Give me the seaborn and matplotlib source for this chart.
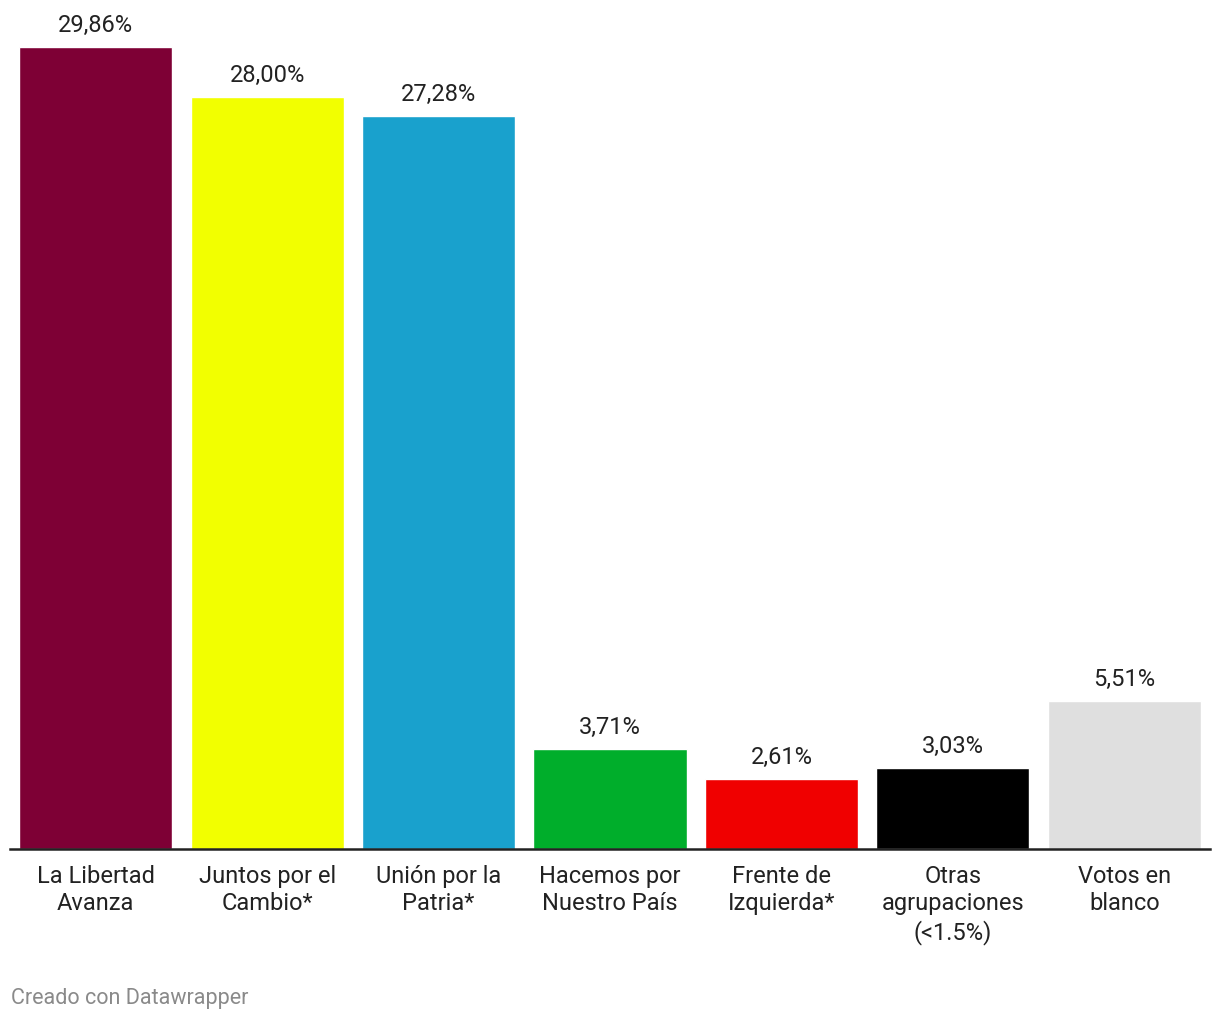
import matplotlib
matplotlib.use('Agg')
import matplotlib.pyplot as plt
import seaborn as sns
import pandas as pd

# values
parties = ['La Libertad\nAvanza', 'Juntos por el\nCambio*', 'Unión por la\nPatria*',
           'Hacemos por\nNuestro País', 'Frente de\nIzquierda*',
           'Otras\nagrupaciones\n(<1.5%)', 'Votos en\nblanco']
votes = [29.86, 28.00, 27.28, 3.71, 2.61, 3.03, 5.51]
value_labels = ['29,86%', '28,00%', '27,28%', '3,71%', '2,61%', '3,03%', '5,51%']
colors = ['#7e0035', '#f2ff00', '#19a1cd', '#00ae2b', '#f00000', '#000000', '#dfdfdf']

sns.set_style('white')
plt.rcParams['font.family'] = ['Roboto', 'DejaVu Sans']

df = pd.DataFrame({'party': parties, 'votes': votes})

fig = plt.figure(figsize=(12.2, 10.2), dpi=100)
ax = fig.add_axes([10 / 1220, 170 / 1020, 1200 / 1220, 802 / 1020])

sns.barplot(data=df, x='party', y='votes', hue='party', palette=colors,
            width=0.893, saturation=1, legend=False, ax=ax)

for cont, lab in zip(ax.containers, value_labels):
    ax.bar_label(cont, labels=[lab], padding=8, fontsize=17, color='#222222')

ax.set_xlim(-0.5, 6.5)
ax.set_ylim(0, 29.86)
ax.set_xlabel('')
ax.set_ylabel('')
ax.set_yticks([])
ax.tick_params(axis='x', length=0, pad=10.5, labelsize=17, labelcolor='#222222')
for t in ax.get_xticklabels():
    t.set_linespacing(1.25)
for side in ['top', 'right', 'left']:
    ax.spines[side].set_visible(False)
ax.spines['bottom'].set_color('#222222')
ax.spines['bottom'].set_linewidth(1.8)
ax.patch.set_alpha(0)

fig.text(11 / 1220, 1 - 1004 / 1020, 'Creado con Datawrapper', fontsize=15.5,
         color='#8a8a8a', ha='left', va='baseline')

fig.savefig('out.png', dpi=100)
